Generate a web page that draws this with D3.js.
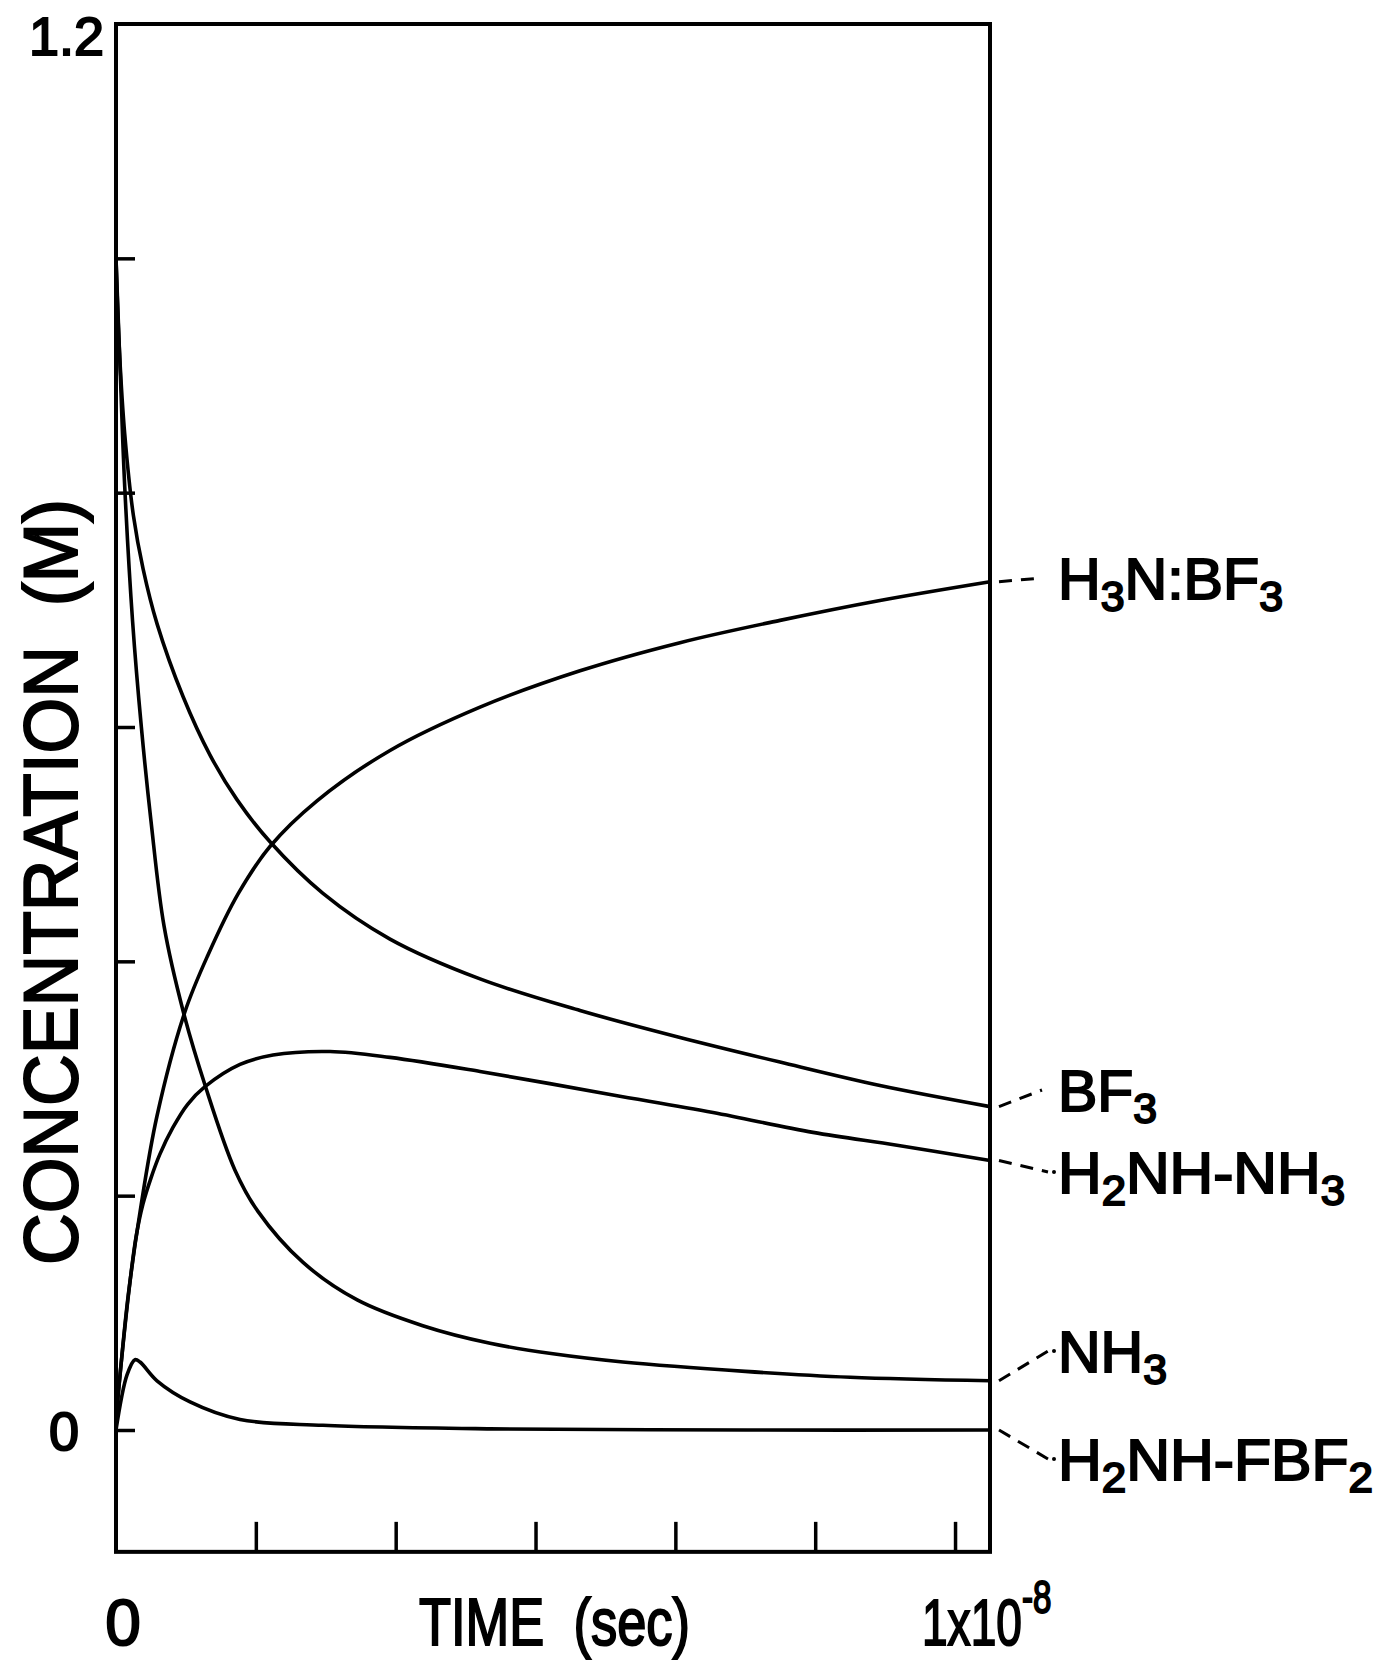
<!DOCTYPE html>
<html lang="en">
<head>
<meta charset="utf-8">
<title>Concentration vs time</title>
<script src="https://d3js.org/d3.v7.min.js"></script>
<style>
    body { margin: 0; background: #fff; }
    text { font-family: "Liberation Sans", Arial, Helvetica, sans-serif; fill: #000; stroke: #000; stroke-width: 2px; }
</style>
</head>
<body>
<div id="viz"></div>
<script>

    // time in ns (axis runs 0 .. 1x10^-8 s), concentration in M
    var h3nbf3 = [[0, 0.01], [0.05, 0.05], [0.14, 0.115], [0.275, 0.186], [0.469, 0.268], [0.789, 0.357],
        [1.05, 0.405], [1.40, 0.458], [1.762, 0.498], [2.30, 0.537], [3.135, 0.580], [4.165, 0.617],
        [5.309, 0.648], [6.453, 0.672], [7.597, 0.691], [8.741, 0.708], [10, 0.724]];
    var bf3 = [[0, 1.0], [0.04, 0.92], [0.10, 0.85], [0.20, 0.78], [0.31, 0.735], [0.47, 0.688],
        [0.767, 0.626], [1.076, 0.576], [1.384, 0.538], [1.762, 0.502], [2.368, 0.458], [3.135, 0.419],
        [4.165, 0.385], [5.309, 0.358], [6.453, 0.335], [7.597, 0.314], [8.741, 0.294], [10, 0.276]];
    var h2nhnh3 = [[0, 0.01], [0.05, 0.05], [0.15, 0.12], [0.23, 0.165], [0.309, 0.193], [0.40, 0.215],
        [0.50, 0.235], [0.65, 0.258], [0.82, 0.278], [1.018, 0.293], [1.419, 0.312], [1.796, 0.320],
        [2.449, 0.323], [3.135, 0.318], [4.165, 0.306], [5.686, 0.286], [6.831, 0.271], [7.975, 0.254],
        [8.936, 0.243], [10, 0.230]];
    var nh3 = [[0, 1.0], [0.05, 0.90], [0.10, 0.805], [0.19, 0.69], [0.29, 0.60], [0.40, 0.52],
        [0.55, 0.43], [0.77, 0.357], [1.02, 0.294], [1.36, 0.222], [1.62, 0.187], [2.14, 0.143],
        [2.76, 0.111], [3.51, 0.089], [4.28, 0.074], [5.0, 0.065], [5.8, 0.058], [7.2, 0.050],
        [8.4, 0.045], [10, 0.042]];
    var h2nhfbf2 = [[0, 0.0], [0.126, 0.047], [0.217, 0.060], [0.275, 0.058], [0.469, 0.042], [0.847, 0.024],
        [1.419, 0.009], [2.368, 0.004], [4.279, 0.001], [7.220, 0.0], [10, 0.0]];

    var seriesNames = [["H", "3", "N:BF", "3"], ["BF", "3"], ["H", "2", "NH-NH", "3"], ["NH", "3"], ["H", "2", "NH-FBF", "2"]];
    var seriesData = [h3nbf3, bf3, h2nhnh3, nh3, h2nhfbf2];

    var xTicks = [1.6, 3.2, 4.8, 6.4, 8.0, 9.6];
    var yTicks = [0, 0.2, 0.4, 0.6, 0.8, 1.0];

    width = 1380;
    height = 1661;

    var x = d3.scaleLinear().domain([0, 10]).range([116, 990]);
    var y = d3.scaleLinear().domain([0, 1.2]).range([1430, 24]);
    var yBottom = -0.104;

    var svg = d3.select("#viz").append("svg")
        .attr("width", width)
        .attr("height", height);

    // frame
    svg.append("rect")
        .attr("x", x(0))
        .attr("y", y(1.2))
        .attr("width", x(10) - x(0))
        .attr("height", y(yBottom) - y(1.2))
        .style("fill", "none")
        .style("stroke", "#000")
        .style("stroke-width", 4);

    // ticks, pointing inward
    svg.append("g")
        .attr("transform", "translate(0," + y(yBottom) + ")")
        .call(d3.axisBottom(x).tickValues(xTicks).tickSize(-30).tickFormat(""));
    svg.append("g")
        .attr("transform", "translate(" + x(0) + ",0)")
        .call(d3.axisLeft(y).tickValues(yTicks).tickSize(-19).tickFormat(""));
    svg.selectAll(".domain").remove();
    svg.selectAll(".tick line").style("stroke", "#000").style("stroke-width", 3.5);

    // curves
    var line = d3.line()
        .x(d => x(d[0]))
        .y(d => y(d[1]))
        .curve(d3.curveCatmullRom.alpha(0.5));

    svg.selectAll("path.curve")
        .data(seriesData)
        .enter().append("path")
        .attr("class", "curve")
        .attr("d", line)
        .style("fill", "none")
        .style("stroke", "#000")
        .style("stroke-width", 3.6)
        .style("stroke-linejoin", "round");

    // labels at the right with dashed leaders
    var labelLayout = [
        {mid: 578, width: 225, dot: false},
        {mid: 1090, width: 99, dot: false},
        {mid: 1172, width: 287, dot: true},
        {mid: 1351, width: 109, dot: true},
        {mid: 1459, width: 315, dot: true}
    ];
    var labelX = 1058;

    seriesData.forEach(function (s, i) {
        var end = s[s.length - 1];
        var lay = labelLayout[i];
        var x0 = x(end[0]) + 9, y0 = y(end[1]);
        var x1 = labelX - (lay.dot ? 10 : 16), y1 = lay.mid;
        svg.append("line")
            .attr("x1", x0).attr("y1", y0)
            .attr("x2", x1).attr("y2", y1)
            .style("stroke", "#000")
            .style("stroke-width", 3)
            .style("stroke-dasharray", "13,9");
        if (lay.dot) {
            svg.append("circle")
                .attr("cx", labelX - 4).attr("cy", y1)
                .attr("r", 2)
                .style("fill", "#000");
        }

        var t = svg.append("text")
            .attr("x", labelX)
            .attr("y", lay.mid + 21)
            .attr("textLength", lay.width)
            .attr("lengthAdjust", "spacingAndGlyphs")
            .style("font-size", "58px");
        seriesNames[i].forEach(function (p, k) {
            var isSub = (k % 2 === 1);
            t.append("tspan")
                .attr("dy", isSub ? 12 : (k === 0 ? 0 : -12))
                .style("font-size", isSub ? "42px" : "58px")
                .text(p);
        });
    });

    // y tick labels
    svg.append("text")
        .attr("x", 104)
        .attr("y", y(1.2) + 31)
        .attr("text-anchor", "end")
        .style("font-size", "54px")
        .text("1.2");
    svg.append("text")
        .attr("x", 79)
        .attr("y", y(0) + 20)
        .attr("text-anchor", "end")
        .style("font-size", "54px")
        .text("0");

    // x tick labels
    var xLabelY = 1645;
    svg.append("text")
        .attr("x", x(0) + 7)
        .attr("y", xLabelY)
        .attr("text-anchor", "middle")
        .style("font-size", "64px")
        .text("0");
    var xe = svg.append("text")
        .attr("transform", "translate(922," + xLabelY + ") scale(0.72,1)")
        .style("font-size", "64px");
    xe.append("tspan").text("1x10");
    xe.append("tspan").attr("dy", -32).style("font-size", "46px").text("-8");

    // axis titles
    svg.append("text")
        .attr("x", 419)
        .attr("y", xLabelY)
        .attr("textLength", 271)
        .attr("lengthAdjust", "spacingAndGlyphs")
        .style("font-size", "67px")
        .style("white-space", "pre")
        .text("TIME  (sec)");

    svg.append("text")
        .attr("transform", "translate(77,882) rotate(-90)")
        .attr("text-anchor", "middle")
        .attr("textLength", 766)
        .attr("lengthAdjust", "spacingAndGlyphs")
        .style("font-size", "76px")
        .style("white-space", "pre")
        .text("CONCENTRATION  (M)");

</script>
</body>
</html>
